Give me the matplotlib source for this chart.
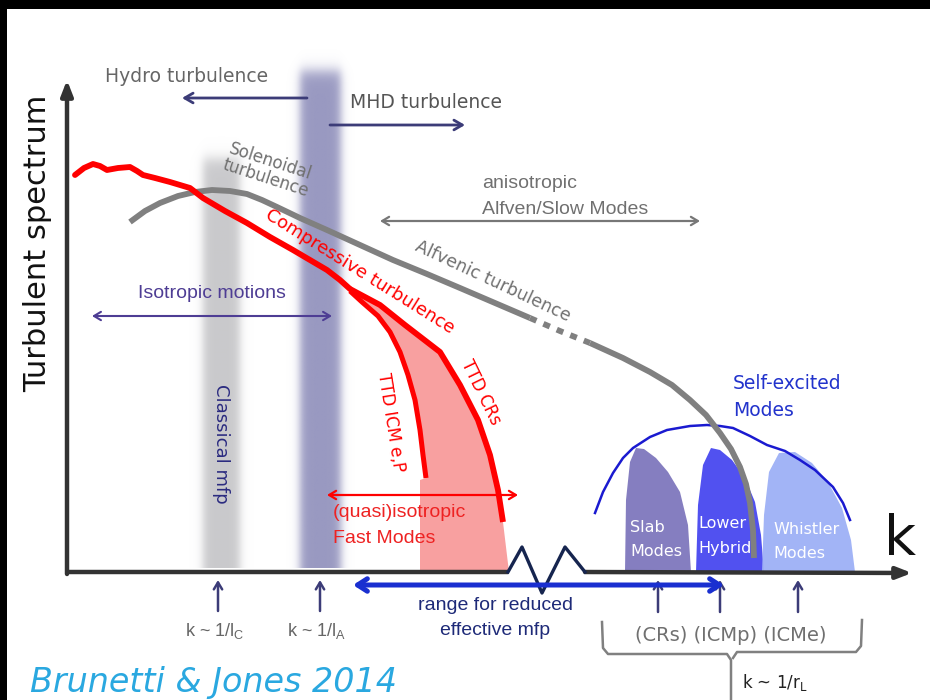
import numpy as np
import matplotlib
matplotlib.use("Agg")
import matplotlib.pyplot as plt
from matplotlib.patches import Polygon, Rectangle

# ---------------------------------------------------------------
# Schematic turbulent spectrum in the ICM (k increases to the right,
# spectrum increases upward). Coordinates are in canvas units with
# y growing downward.
# ---------------------------------------------------------------

# Solenoidal / Alfvenic turbulence (grey)
alfven_x = [130, 145, 160, 178, 195, 212, 230, 247, 262, 277, 300, 327,
            360, 393, 427, 460, 495, 530]
alfven_y = [222, 211, 203, 196, 192, 190, 191, 194, 200, 207, 218, 230,
            245, 260, 274, 288, 303, 318]
alfven_gap_x = [530, 560, 590]
alfven_gap_y = [318, 331, 343]
alfven_tail_x = [590, 623, 650, 672, 690, 706, 720, 731, 740, 746, 750,
                 753, 754]
alfven_tail_y = [343, 358, 372, 385, 400, 415, 433, 449, 467, 484, 503,
                 530, 558]

# Compressive turbulence (red), trunk and the two damping branches
comp_x = [75, 84, 93, 100, 107, 118, 130, 137, 143, 155, 170, 190, 203,
          225, 247, 270, 293, 310, 327, 340, 350]
comp_y = [175, 168, 164, 166, 170, 168, 167, 171, 175, 178, 182, 188, 198,
          211, 223, 237, 250, 260, 270, 280, 289]
ttd_crs_x = [350, 380, 405, 440, 460, 478, 490, 498, 503]
ttd_crs_y = [289, 305, 325, 352, 385, 420, 455, 490, 522]
ttd_icm_x = [350, 362, 378, 390, 400, 408, 415, 420, 423, 426]
ttd_icm_y = [291, 302, 316, 332, 352, 375, 400, 430, 455, 478]

# Self-excited modes envelope (blue)
self_x = [595, 603, 613, 623, 633, 650, 667, 690, 707, 720, 733, 750, 767,
          785, 800, 815, 833, 843, 850]
self_y = [513, 492, 473, 458, 448, 437, 430, 426, 425, 426, 428, 436, 445,
          451, 460, 470, 487, 503, 520]

# Kinetic-mode bumps: slab, lower hybrid, whistler
slab_x = [625, 626, 630, 636, 644, 656, 668, 680, 688, 691]
slab_y = [572, 500, 462, 448, 449, 458, 472, 492, 525, 572]
hybrid_x = [696, 698, 703, 711, 720, 732, 745, 755, 761, 764]
hybrid_y = [572, 505, 465, 448, 450, 460, 478, 502, 535, 572]
whistler_x = [762, 764, 769, 779, 795, 812, 828, 842, 851, 855]
whistler_y = [572, 515, 472, 453, 452, 463, 482, 508, 540, 572]

# Axis break (zig-zag)
zig_x = [508, 522, 542, 565, 585]
zig_y = [572, 547, 593, 547, 572]

# Characteristic scales marked under the k axis
scale_x = [218, 320]
scale_labels = [r"k ~ 1/l$_\mathregular{C}$", r"k ~ 1/l$_\mathregular{A}$"]
larmor_x = [658, 720, 798]

GREY = "#808080"
RED = "#ff0000"
NAVY = "#3c3c78"
BLUE = "#1a2fd0"

fig = plt.figure(figsize=(9.3, 7.0), dpi=100, facecolor="white")
# dark frame along the top and left edges
fig.patches.append(Rectangle((0, 0), 7 / 930, 1, transform=fig.transFigure,
                             facecolor="black", edgecolor="none", zorder=10))
fig.patches.append(Rectangle((0, 1 - 9 / 700), 1, 9 / 700,
                             transform=fig.transFigure, facecolor="black",
                             edgecolor="none", zorder=10))

ax = fig.add_axes([7 / 930, 0, 923 / 930, 691 / 700])
ax.set_xlim(7, 930)
ax.set_ylim(700, 9)
ax.axis("off")

FONT = "DejaVu Sans"
SANS = "Liberation Sans"


def soft_band(x0, x1, y0, y1, rgb, soft=10, top_soft=16):
    """Vertical band with blurred edges."""
    nx, ny = 200, 300
    xs = np.linspace(x0 - 2 * soft, x1 + 2 * soft, nx)
    ys = np.linspace(y0 - 2 * top_soft, y1, ny)
    ax_ = 0.5 * (np.tanh((xs - x0) / soft * 2) - np.tanh((xs - x1) / soft * 2))
    ay_ = 0.5 * (1 + np.tanh((ys - y0) / top_soft * 2))
    img = np.zeros((ny, nx, 4))
    img[..., :3] = rgb
    img[..., 3] = np.outer(ay_, ax_)
    ax.imshow(img, extent=(xs[0], xs[-1], ys[-1], ys[0]), origin="upper",
              aspect="auto", zorder=1, interpolation="bilinear")


soft_band(203, 240, 158, 568, (0.79, 0.79, 0.80))
soft_band(300, 341, 70, 568, (0.60, 0.60, 0.76))

# axes of the schematic
ax.annotate("", xy=(67, 80), xytext=(67, 574),
            arrowprops=dict(arrowstyle="-|>,head_length=0.9,head_width=0.35",
                            color="#333333", lw=3.2, shrinkA=0, shrinkB=0),
            zorder=6)
ax.plot([65.5, 508], [572, 572], color="#333333", lw=3.2, zorder=6,
        solid_capstyle="butt")
ax.annotate("", xy=(912, 573), xytext=(585, 572),
            arrowprops=dict(arrowstyle="-|>,head_length=0.9,head_width=0.35",
                            color="#333333", lw=3.2, shrinkA=0, shrinkB=0),
            zorder=3)
ax.plot(zig_x, zig_y, color="#16254f", lw=2.4, zorder=6)

ax.text(38, 243, "Turbulent spectrum", rotation=90, ha="center", va="center",
        fontsize=22, family=FONT, color="#111111")
ax.text(900, 540, "k", ha="center", va="center", fontsize=40, family=FONT,
        color="#111111")

# kinetic bumps
for xs_, ys_, col, alpha in [(slab_x, slab_y, "#7f77bd", 0.95),
                             (hybrid_x, hybrid_y, "#4848f0", 0.95),
                             (whistler_x, whistler_y, "#9db0f6", 0.95)]:
    ax.add_patch(Polygon(list(zip(xs_, ys_)), closed=True, facecolor=col,
                         edgecolor="none", alpha=alpha, zorder=2))
ax.plot(self_x, self_y, color="#1a1ad0", lw=1.8, zorder=4)

for tx, ty, s in [(630, 528, "Slab"), (630, 552, "Modes"),
                  (698, 524, "Lower"), (698, 549, "Hybrid"),
                  (773, 530, "Whistler"), (773, 554, "Modes")]:
    ax.text(tx, ty, s, ha="left", va="center", fontsize=11.5, family=FONT,
            color="white", zorder=5)

ax.text(733, 384, "Self-excited", ha="left", va="center", fontsize=13.5,
        family=FONT, color="#2233cc")
ax.text(733, 411, "Modes", ha="left", va="center", fontsize=13.5,
        family=FONT, color="#2233cc")

# compressive turbulence and the damped region
fill_pts = (list(zip(ttd_icm_x, ttd_icm_y)) + [(420, 480), (420, 572),
            (509, 572)] + list(zip(ttd_crs_x, ttd_crs_y))[::-1])
ax.add_patch(Polygon(fill_pts, closed=True, facecolor="#f8a0a0",
                     edgecolor="none", zorder=2))
ax.plot(comp_x, comp_y, color=RED, lw=4.2, zorder=5, solid_capstyle="round",
        solid_joinstyle="round")
ax.plot(ttd_crs_x, ttd_crs_y, color=RED, lw=4.2, zorder=5,
        solid_capstyle="butt", solid_joinstyle="round")
ax.plot(ttd_icm_x, ttd_icm_y, color=RED, lw=3.6, zorder=5,
        solid_capstyle="butt", solid_joinstyle="round")

# solenoidal / Alfvenic turbulence
ax.plot(alfven_x, alfven_y, color=GREY, lw=4.2, zorder=4,
        solid_capstyle="butt", solid_joinstyle="round")
ax.plot(alfven_gap_x, alfven_gap_y, color=GREY, lw=4.2, zorder=4,
        dashes=(1.2, 1.3))
ax.plot(alfven_tail_x, alfven_tail_y, color=GREY, lw=4.2, zorder=4,
        solid_capstyle="butt", solid_joinstyle="round")

# labels along the curves
ax.text(268, 170, "Solenoidal\nturbulence", rotation=-18, ha="center",
        va="center", fontsize=12, family=FONT, color="#707070",
        rotation_mode="anchor", linespacing=1.0)
ax.text(360, 272, "Compressive turbulence", rotation=-32, ha="center",
        va="center", fontsize=13, family=FONT, color=RED,
        rotation_mode="anchor")
ax.text(493, 281, "Alfvenic turbulence", rotation=-25, ha="center",
        va="center", fontsize=12.5, family=FONT, color="#707070",
        rotation_mode="anchor")
ax.text(391, 422, "TTD ICM e,P", rotation=-81, ha="center", va="center",
        fontsize=12, family=FONT, color=RED, rotation_mode="anchor")
ax.text(481, 392, "TTD CRs", rotation=-64, ha="center", va="center",
        fontsize=12, family=FONT, color=RED, rotation_mode="anchor")
ax.text(221, 444, "Classical mfp", rotation=-90, ha="center", va="center",
        fontsize=13, family=FONT, color="#2b2b80", rotation_mode="anchor")

# regime arrows
ax.text(105, 76, "Hydro turbulence", ha="left", va="center", fontsize=13.5,
        family=FONT, color="#666666")
ax.annotate("", xy=(182, 98), xytext=(307, 98),
            arrowprops=dict(arrowstyle="->,head_length=0.6,head_width=0.35",
                            color=NAVY, lw=2.0, shrinkA=0, shrinkB=0))
ax.text(350, 103, "MHD turbulence", ha="left", va="center", fontsize=13.5,
        family=FONT, color="#555555")
ax.annotate("", xy=(465, 125), xytext=(330, 125),
            arrowprops=dict(arrowstyle="->,head_length=0.6,head_width=0.35",
                            color=NAVY, lw=2.0, shrinkA=0, shrinkB=0))

ax.text(482, 183, "anisotropic", ha="left", va="center", fontsize=14,
        family=SANS, color="#707070")
ax.text(482, 209, "Alfven/Slow Modes", ha="left", va="center", fontsize=14,
        family=SANS, color="#707070")
ax.annotate("", xy=(380, 221), xytext=(700, 221),
            arrowprops=dict(arrowstyle="<->,head_length=0.5,head_width=0.3",
                            color="#777777", lw=1.6, shrinkA=0, shrinkB=0))

ax.text(212, 294, "Isotropic motions", ha="center", va="center",
        fontsize=14, family=SANS, color="#4e3d94")
ax.annotate("", xy=(92, 316), xytext=(332, 316),
            arrowprops=dict(arrowstyle="<->,head_length=0.5,head_width=0.3",
                            color="#4e3d94", lw=1.5, shrinkA=0, shrinkB=0))

ax.annotate("", xy=(327, 495), xytext=(518, 495),
            arrowprops=dict(arrowstyle="<->,head_length=0.5,head_width=0.3",
                            color=RED, lw=1.6, shrinkA=0, shrinkB=0), zorder=6)
ax.text(333, 513, "(quasi)isotropic", ha="left", va="center", fontsize=14,
        family=SANS, color="#ee2222", zorder=6)
ax.text(333, 539, "Fast Modes", ha="left", va="center", fontsize=14,
        family=SANS, color="#ee2222", zorder=6)

# range for reduced effective mfp
ax.annotate("", xy=(353, 585), xytext=(724, 585),
            arrowprops=dict(arrowstyle="<->,head_length=0.7,head_width=0.45",
                            color=BLUE, lw=3.6, shrinkA=0, shrinkB=0),
            zorder=7)
ax.text(495, 606, "range for reduced", ha="center", va="center",
        fontsize=14, family=SANS, color="#1e2a78")
ax.text(495, 631, "effective mfp", ha="center", va="center", fontsize=14,
        family=SANS, color="#1e2a78")

# characteristic scales
for xx, lab in zip(scale_x, scale_labels):
    ax.annotate("", xy=(xx, 580), xytext=(xx, 611),
                arrowprops=dict(arrowstyle="->,head_length=0.5,head_width=0.3",
                                color=NAVY, lw=1.8, shrinkA=0, shrinkB=0))
    ax.text(xx - 3, 631, lab, ha="center", va="center", fontsize=13,
            family=SANS, color="#666666")
for xx in larmor_x:
    ax.annotate("", xy=(xx, 580), xytext=(xx, 612),
                arrowprops=dict(arrowstyle="->,head_length=0.5,head_width=0.3",
                                color=NAVY, lw=1.8, shrinkA=0, shrinkB=0))
ax.text(731, 636, "(CRs) (ICMp) (ICMe)", ha="center", va="center",
        fontsize=14, family=FONT, color="#707070")

# brace grouping the Larmor scales
bx = [602, 603, 608, 727, 731, 731]
by = [622, 648, 654, 654, 660, 700]
ax.plot(bx, by, color="#808080", lw=1.8)
bx2 = [862, 861, 856, 737, 733]
by2 = [620, 646, 652, 652, 658]
ax.plot(bx2, by2, color="#808080", lw=1.8)
ax.text(742, 683, r"k ~ 1/r$_\mathregular{L}$", ha="left", va="center",
        fontsize=12, family=FONT, color="#222222")

ax.text(30, 683, "Brunetti & Jones 2014", ha="left", va="center",
        fontsize=24, family=FONT, style="italic", color="#2aa8e0")

fig.savefig("out.png", dpi=100, facecolor=fig.get_facecolor())
